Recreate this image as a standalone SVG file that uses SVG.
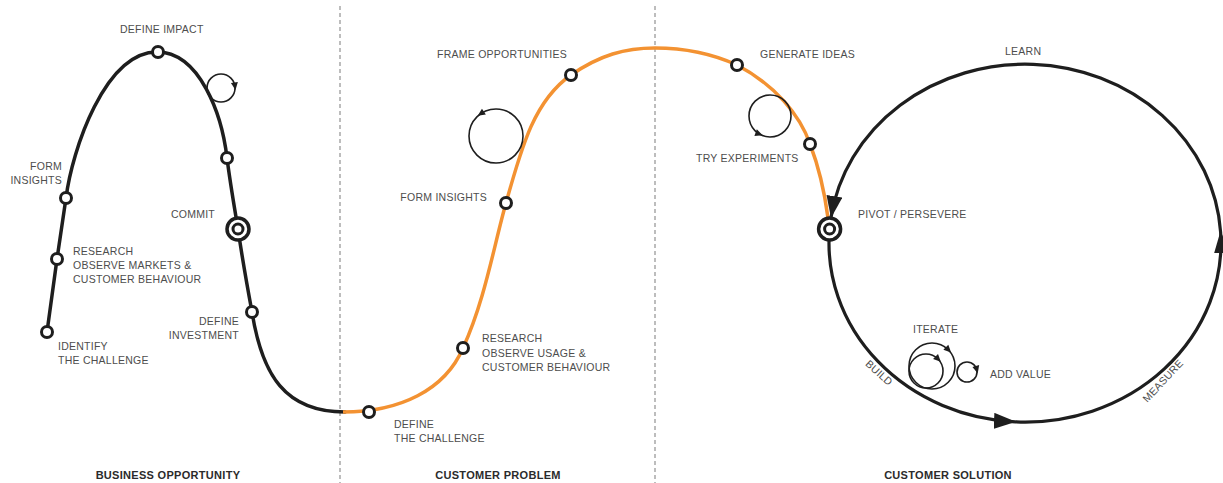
<svg xmlns="http://www.w3.org/2000/svg" width="1223" height="483" viewBox="0 0 1223 483">
<style>
  .lbl{font-family:"Liberation Sans",Arial,sans-serif;font-size:10.5px;letter-spacing:0.25px;fill:#4d4d4d}
  .end{text-anchor:end}
  .mid{text-anchor:middle}
  .sec{font-family:"Liberation Sans",Arial,sans-serif;font-size:11px;font-weight:bold;letter-spacing:0.3px;fill:#2b2b2b;text-anchor:middle}
  .divider{stroke:#9a9a9a;stroke-width:1.3;stroke-dasharray:4 3;fill:none}
  .path-black{stroke:#1e1e1e;stroke-width:3.5;fill:none;stroke-linecap:round;stroke-linejoin:round}
  .path-orange{stroke:#f39232;stroke-width:3.5;fill:none}
  .loop-main{stroke:#1e1e1e;stroke-width:3.2;fill:none}
  .step{fill:#fff;stroke:#1e1e1e;stroke-width:3}
  .ring{fill:#fff;stroke:#1e1e1e;stroke-width:3.5}
  .cycle{fill:none;stroke:#1e1e1e;stroke-width:1.6}
  .tip{fill:#1e1e1e}
</style>
<defs>
  <marker id="arrow" markerUnits="userSpaceOnUse" markerWidth="22" markerHeight="16" viewBox="0 0 22 16" refX="21" refY="8" orient="auto">
    <path d="M0,0 L22,8 L0,16 z" fill="#1e1e1e"/>
  </marker>
  <path id="tri" d="M4,0 L-3.5,-3.5 L-3.5,3.5 z"/>
</defs>

<!-- phase dividers -->
<g id="dividers">
  <line class="divider" x1="340" y1="6" x2="340" y2="483"/>
  <line class="divider" x1="655" y1="6" x2="655" y2="483"/>
</g>

<!-- journey curves and the build-measure-learn loop -->
<g id="connectors">
  <path class="path-black" d="M47,332 L57,259 L66,198 C72,150 105,52 157,52 C200,52 222,115 227,158 C230,182 234,205 238,229 C242,257 247,285 252,312 C262,375 285,412 345,412"/>
  <path class="path-orange" d="M343,412 C400,412 445,390 463,348 C485,300 494,245 506,203 C522,145 535,100 571,75 C600,55 625,48 655,48 C690,48 715,55 737,65 C775,85 800,115 810,144 C820,170 825,195 828,218"/>
  <path class="loop-main" d="M829.6,229 A196,179 0 0 0 1015,421.8" marker-end="url(#arrow)"/>
  <path class="loop-main" d="M1015,421.8 A196,179 0 0 0 1220.6,232" marker-end="url(#arrow)"/>
  <path class="loop-main" d="M1220.6,232 A196,179 0 0 0 831.1,217" marker-end="url(#arrow)"/>
</g>

<!-- small iteration cycles -->
<g id="cycle-impact">
  <circle class="cycle" cx="221" cy="88" r="14"/>
  <use href="#tri" class="tip" transform="translate(234.9,86) rotate(82)"/>
</g>
<g id="cycle-problem">
  <circle class="cycle" cx="496" cy="136" r="27"/>
  <use href="#tri" class="tip" transform="translate(481,113.5) rotate(146)"/>
</g>
<g id="cycle-ideas">
  <circle class="cycle" cx="770" cy="116" r="21"/>
  <use href="#tri" class="tip" transform="translate(758.9,133.8) rotate(20)"/>
</g>
<g id="cycle-iterate">
  <circle class="cycle" cx="932" cy="366" r="23"/>
  <use href="#tri" class="tip" transform="translate(948.3,349.7) rotate(45)"/>
  <circle class="cycle" cx="926" cy="371" r="17"/>
  <use href="#tri" class="tip" transform="translate(938,359) rotate(45)"/>
  <text class="lbl" x="913" y="333">ITERATE</text>
</g>
<g id="cycle-add-value">
  <circle class="cycle" cx="967" cy="372" r="10"/>
  <use href="#tri" class="tip" transform="translate(976.7,369.4) rotate(75)"/>
  <text class="lbl" x="990" y="378">ADD VALUE</text>
</g>

<!-- business opportunity steps -->
<g id="identify-challenge">
  <circle class="step" cx="47" cy="332" r="5.5"/>
  <text class="lbl" x="58" y="350">IDENTIFY</text>
  <text class="lbl" x="58" y="364">THE CHALLENGE</text>
</g>
<g id="research-markets">
  <circle class="step" cx="57" cy="259" r="5.5"/>
  <text class="lbl" x="73" y="255">RESEARCH</text>
  <text class="lbl" x="73" y="269">OBSERVE MARKETS &amp;</text>
  <text class="lbl" x="73" y="283">CUSTOMER BEHAVIOUR</text>
</g>
<g id="form-insights-1">
  <circle class="step" cx="66" cy="198" r="5.5"/>
  <text class="lbl end" x="62" y="170">FORM</text>
  <text class="lbl end" x="62" y="184">INSIGHTS</text>
</g>
<g id="define-impact">
  <circle class="step" cx="158" cy="52" r="5.5"/>
  <text class="lbl" x="120" y="33">DEFINE IMPACT</text>
</g>
<g id="review">
  <circle class="step" cx="227" cy="158" r="5.5"/>
</g>
<g id="commit">
  <circle class="ring" cx="238" cy="229" r="11"/>
  <circle class="step" cx="238" cy="229" r="5"/>
  <text class="lbl end" x="215" y="218">COMMIT</text>
</g>
<g id="define-investment">
  <circle class="step" cx="252" cy="312" r="5.5"/>
  <text class="lbl end" x="239" y="325">DEFINE</text>
  <text class="lbl end" x="239" y="339">INVESTMENT</text>
</g>

<!-- customer problem steps -->
<g id="define-challenge">
  <circle class="step" cx="369" cy="412" r="5.5"/>
  <text class="lbl" x="394" y="428">DEFINE</text>
  <text class="lbl" x="394" y="442">THE CHALLENGE</text>
</g>
<g id="research-usage">
  <circle class="step" cx="463" cy="348" r="5.5"/>
  <text class="lbl" x="482" y="342">RESEARCH</text>
  <text class="lbl" x="482" y="356.5">OBSERVE USAGE &amp;</text>
  <text class="lbl" x="482" y="371">CUSTOMER BEHAVIOUR</text>
</g>
<g id="form-insights-2">
  <circle class="step" cx="506" cy="203" r="5.5"/>
  <text class="lbl end" x="487" y="201">FORM INSIGHTS</text>
</g>
<g id="frame-opportunities">
  <circle class="step" cx="571" cy="75" r="5.5"/>
  <text class="lbl" x="437" y="58">FRAME OPPORTUNITIES</text>
</g>

<!-- customer solution steps -->
<g id="generate-ideas">
  <circle class="step" cx="737" cy="65" r="5.5"/>
  <text class="lbl" x="760" y="58">GENERATE IDEAS</text>
</g>
<g id="try-experiments">
  <circle class="step" cx="810" cy="144" r="5.5"/>
  <text class="lbl" x="696" y="162">TRY EXPERIMENTS</text>
</g>
<g id="pivot-persevere">
  <circle class="ring" cx="829.6" cy="229" r="11"/>
  <circle class="step" cx="829.6" cy="229" r="5"/>
  <text class="lbl" x="858" y="218">PIVOT / PERSEVERE</text>
</g>
<g id="learn">
  <text class="lbl" x="1005" y="55">LEARN</text>
</g>
<g id="build">
  <text class="lbl mid" transform="translate(879,373) rotate(42)" dy="3.5">BUILD</text>
</g>
<g id="measure">
  <text class="lbl mid" transform="translate(1163,381) rotate(-47)" dy="3.5">MEASURE</text>
</g>

<!-- phase titles -->
<g id="phase-titles">
  <text class="sec" x="168" y="479">BUSINESS OPPORTUNITY</text>
  <text class="sec" x="498" y="479">CUSTOMER PROBLEM</text>
  <text class="sec" x="948" y="479">CUSTOMER SOLUTION</text>
</g>
</svg>
